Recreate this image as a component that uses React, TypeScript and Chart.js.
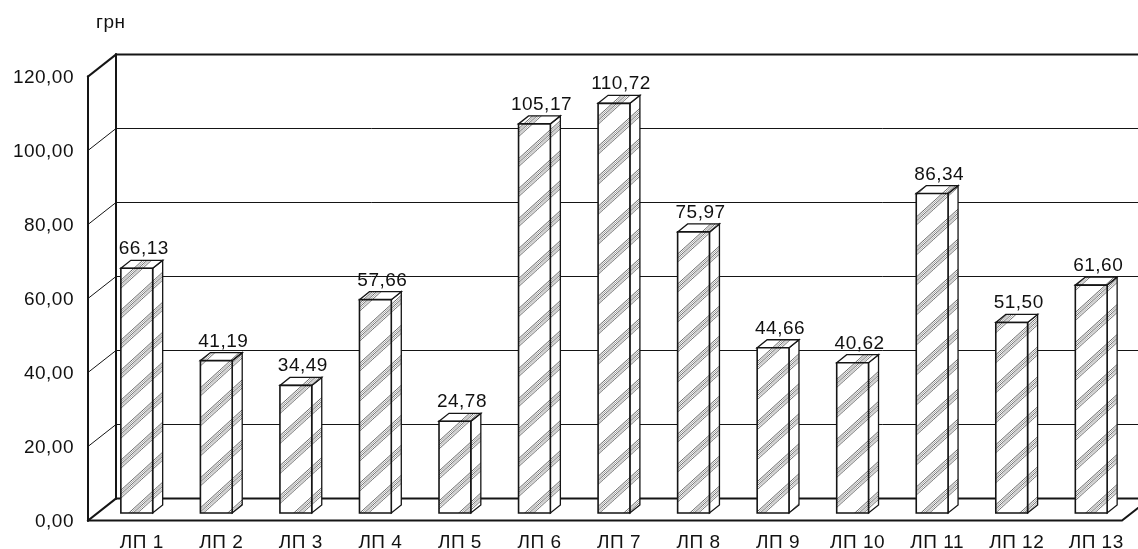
import React, { useEffect, useRef } from 'react';
import { Chart, registerables } from 'chart.js';

Chart.register(...registerables);

// ---- data ----
const categories = ['ЛП 1', 'ЛП 2', 'ЛП 3', 'ЛП 4', 'ЛП 5', 'ЛП 6', 'ЛП 7', 'ЛП 8', 'ЛП 9', 'ЛП 10', 'ЛП 11', 'ЛП 12', 'ЛП 13'];
const values = [66.13, 41.19, 34.49, 57.66, 24.78, 105.17, 110.72, 75.97, 44.66, 40.62, 86.34, 51.5, 61.6];
const yMin = 0;
const yMax = 120;
const yStep = 20;
const unitLabel = 'грн';

// ---- 3D geometry / style ----
const WALL_DX = 28;
const WALL_DY = -22;
const BAR_DX = 9;
const BAR_DY = -7;
const DEPTH_DX = 10;
const DEPTH_DY = -8;
const FONT = '"Liberation Sans", Arial, sans-serif';
const FONT_SIZE = 19;
const TEXT_COLOR = '#111111';
const LINE_COLOR = '#151515';

const fmt = (v: number) => v.toFixed(2).replace('.', ',');

function makePattern(ctx: CanvasRenderingContext2D): CanvasPattern | string {
  const P = 30;
  const c = document.createElement('canvas');
  c.width = P;
  c.height = P;
  const g = c.getContext('2d');
  if (!g) return '#fff';
  g.fillStyle = '#ffffff';
  g.fillRect(0, 0, P, P);
  const offs = [0, 2, 4, 6, 8];
  const cols = ['#222', '#777', '#222', '#888', '#333'];
  offs.forEach((off, j) => {
    g.strokeStyle = cols[j];
    g.lineWidth = 0.7;
    for (let k = -1; k <= 2; k++) {
      const cc = off + k * P;
      g.beginPath();
      g.moveTo(cc, 0);
      g.lineTo(cc - P, P);
      g.stroke();
    }
  });
  const pat = ctx.createPattern(c, 'repeat');
  if (!pat) return '#fff';
  try {
    pat.setTransform(new DOMMatrix([1.1, 0, 0, 1, 0, 0]));
  } catch (e) {
    /* ignore */
  }
  return pat;
}

const walls3d = {
  id: 'walls3d',
  beforeDraw(chart: any) {
    const ctx = chart.ctx as any;
    ctx.letterSpacing = '0.5px';
  },
  beforeDatasetsDraw(chart: any) {
    const ctx = chart.ctx as CanvasRenderingContext2D;
    const ys = chart.scales.y;
    const xs = chart.scales.x;
    const ca = chart.chartArea;
    const W = chart.width;
    const left = ca.left;
    const backLeft = left + WALL_DX;
    ctx.save();
    ctx.strokeStyle = LINE_COLOR;
    ctx.lineCap = 'square';
    for (let v = yMin; v <= yMax; v += yStep) {
      const py = Math.round(ys.getPixelForValue(v)) + 0.5;
      const thick = v === yMin || v === yMax;
      ctx.lineWidth = thick ? 2 : 1;
      // back wall line
      ctx.beginPath();
      ctx.moveTo(backLeft, py + WALL_DY);
      ctx.lineTo(W, py + WALL_DY);
      ctx.stroke();
      // left side wall diagonal
      ctx.beginPath();
      ctx.moveTo(left, py);
      ctx.lineTo(backLeft, py + WALL_DY);
      ctx.stroke();
    }
    const top = Math.round(ys.getPixelForValue(yMax)) + 0.5;
    const bot = Math.round(ys.getPixelForValue(yMin)) + 0.5;
    ctx.lineWidth = 2;
    // front vertical edge
    ctx.beginPath();
    ctx.moveTo(left, top);
    ctx.lineTo(left, bot);
    ctx.stroke();
    // back vertical edge
    ctx.beginPath();
    ctx.moveTo(backLeft, top + WALL_DY);
    ctx.lineTo(backLeft, bot + WALL_DY);
    ctx.stroke();
    // floor front edge and right diagonal
    const right = xs.right;
    ctx.beginPath();
    ctx.moveTo(left, bot);
    ctx.lineTo(right, bot);
    ctx.lineTo(right + WALL_DX, bot + WALL_DY);
    ctx.stroke();
    ctx.restore();

    // unit label
    ctx.save();
    ctx.fillStyle = TEXT_COLOR;
    ctx.font = `${FONT_SIZE}px ${FONT}`;
    ctx.textAlign = 'left';
    ctx.textBaseline = 'alphabetic';
    ctx.fillText(unitLabel, 96, 28);
    ctx.restore();
  },
  afterDatasetsDraw(chart: any) {
    const ctx = chart.ctx as CanvasRenderingContext2D;
    const meta = chart.getDatasetMeta(0);
    const pat = makePattern(ctx);
    ctx.save();
    ctx.strokeStyle = LINE_COLOR;
    ctx.lineJoin = 'miter';
    meta.data.forEach((el: any, i: number) => {
      const p = el.getProps(['x', 'y', 'base', 'width'], true);
      const xl = p.x - p.width / 2 + BAR_DX;
      const xr = p.x + p.width / 2 + BAR_DX;
      const yt = p.y + BAR_DY;
      const yb = p.base + BAR_DY;
      ctx.fillStyle = pat as any;
      ctx.lineWidth = 1.3;
      // side face
      ctx.beginPath();
      ctx.moveTo(xr, yt);
      ctx.lineTo(xr + DEPTH_DX, yt + DEPTH_DY);
      ctx.lineTo(xr + DEPTH_DX, yb + DEPTH_DY);
      ctx.lineTo(xr, yb);
      ctx.closePath();
      ctx.fill();
      ctx.stroke();
      // top face
      ctx.beginPath();
      ctx.moveTo(xl, yt);
      ctx.lineTo(xl + DEPTH_DX, yt + DEPTH_DY);
      ctx.lineTo(xr + DEPTH_DX, yt + DEPTH_DY);
      ctx.lineTo(xr, yt);
      ctx.closePath();
      ctx.fill();
      ctx.stroke();
      // front face
      ctx.lineWidth = 1.6;
      ctx.beginPath();
      ctx.rect(xl, yt, xr - xl, yb - yt);
      ctx.fill();
      ctx.stroke();
      // value label
      ctx.save();
      ctx.fillStyle = TEXT_COLOR;
      ctx.font = `${FONT_SIZE}px ${FONT}`;
      ctx.textAlign = 'center';
      ctx.textBaseline = 'alphabetic';
      ctx.fillText(fmt(values[i]), (xl + xr) / 2 + 7, yt + DEPTH_DY - 6);
      ctx.restore();
    });
    ctx.restore();
  },
};

export default function App() {
  const ref = useRef<HTMLCanvasElement>(null);
  useEffect(() => {
    document.body.style.margin = '0';
    document.body.style.overflow = 'hidden';
    const canvas = ref.current;
    if (!canvas) return;
    const chart = new Chart(canvas, {
      type: 'bar',
      data: {
        labels: categories,
        datasets: [
          {
            data: values,
            backgroundColor: 'rgba(0,0,0,0)',
            borderWidth: 0,
            barPercentage: 0.4,
            categoryPercentage: 1,
          },
        ],
      },
      options: {
        animation: false,
        responsive: false,
        maintainAspectRatio: false,
        devicePixelRatio: 1,
        layout: { padding: { top: 76, right: 16, left: 0, bottom: 0 } },
        plugins: {
          legend: { display: false },
          tooltip: { enabled: false },
          title: { display: false },
        },
        scales: {
          x: {
            grid: { display: false, drawTicks: false },
            border: { display: false },
            ticks: {
              color: TEXT_COLOR,
              font: { family: FONT, size: FONT_SIZE },
              padding: 11,
              labelOffset: 14,
              maxRotation: 0,
              autoSkip: false,
            },
            afterFit: (s: any) => {
              s.height = 29;
            },
          },
          y: {
            min: yMin,
            max: yMax,
            grid: { display: false, drawTicks: false },
            border: { display: false },
            ticks: {
              stepSize: yStep,
              color: TEXT_COLOR,
              font: { family: FONT, size: FONT_SIZE },
              padding: 14,
              labelOffset: 2,
              callback: (v: any) => fmt(Number(v)),
            },
            afterFit: (s: any) => {
              s.width = 88;
            },
          },
        },
      },
      plugins: [walls3d as any],
    });
    return () => chart.destroy();
  }, []);
  return (
    <div style={{ width: 1138, height: 549, position: 'relative', background: '#fff' }}>
      <canvas ref={ref} width={1138} height={549} style={{ display: 'block' }} />
    </div>
  );
}
